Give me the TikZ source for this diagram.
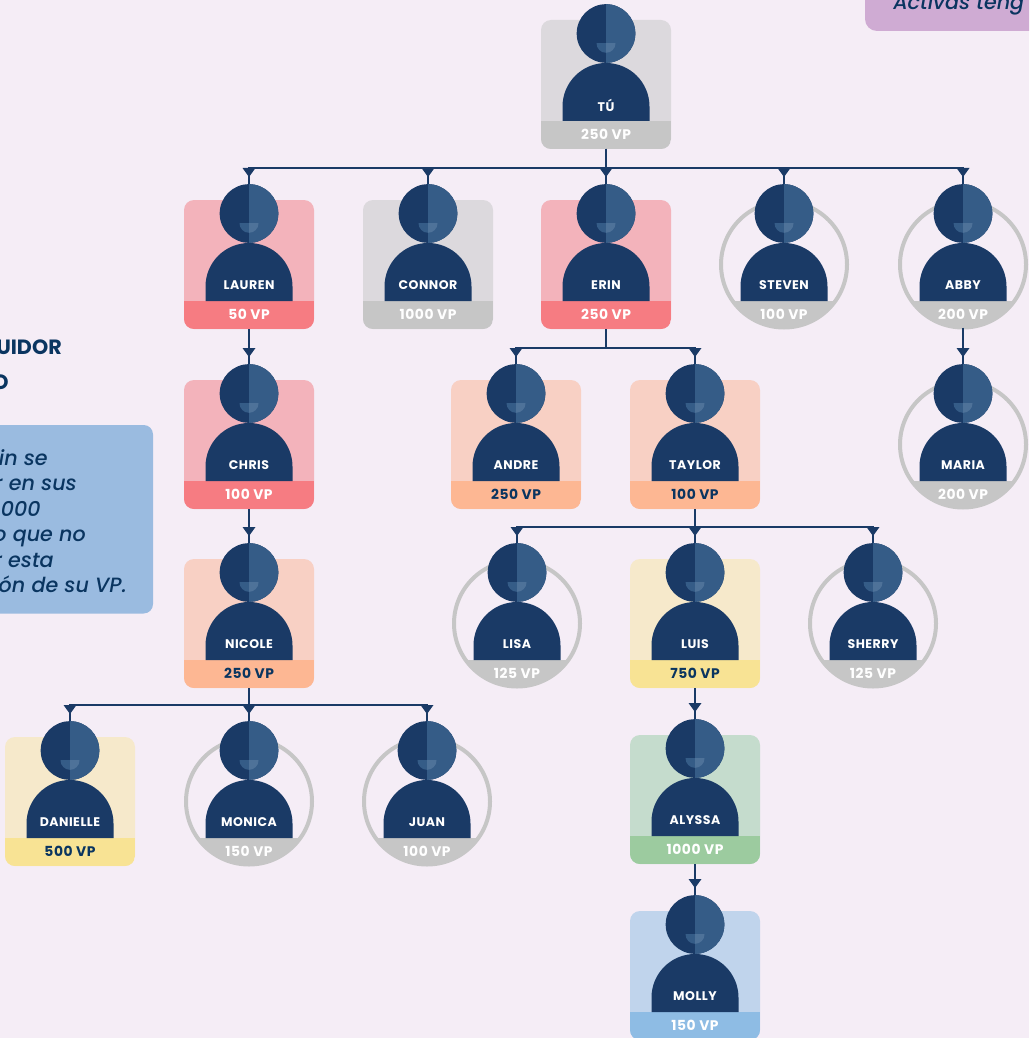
\documentclass[tikz,border=0pt]{standalone}
\usepackage{fontspec}
\setmainfont{Poppins}
\newfontfamily\namef[LetterSpace=4]{Poppins}
\newfontfamily\sidef[ItalicFont={Poppins Medium Italic}]{Poppins Medium}
\usetikzlibrary{calc}
\definecolor{bgc}{HTML}{F5EDF6}
\definecolor{navy}{HTML}{1A3A66}
\definecolor{headr}{HTML}{355C87}
\definecolor{mouthl}{HTML}{355C87}
\definecolor{mouthr}{HTML}{4E7299}
\definecolor{txtc}{HTML}{0A3560}
\definecolor{gra}{HTML}{DCD9DD}\definecolor{grb}{HTML}{C6C6C6}
\definecolor{rea}{HTML}{F3B3BB}\definecolor{reb}{HTML}{F67C82}
\definecolor{ora}{HTML}{F8D0C4}\definecolor{orb}{HTML}{FDB793}
\definecolor{yea}{HTML}{F6E9CB}\definecolor{yeb}{HTML}{F8E394}
\definecolor{gna}{HTML}{C5DCCD}\definecolor{gnb}{HTML}{9CCB9F}
\definecolor{bla}{HTML}{C0D4EC}\definecolor{blb}{HTML}{8EBCE4}
\definecolor{boxb}{HTML}{9ABBE0}\definecolor{boxp}{HTML}{CFABD3}
\tikzset{
  cardnode/.style={inner sep=0pt,outer sep=0pt,minimum width=97.5pt,minimum height=96.75pt,rounded corners=7.5pt},
  ringnode/.style={circle,inner sep=0pt,outer sep=0pt,minimum size=94.5pt,draw=grb,line width=3pt},
  headnode/.style={circle,inner sep=0pt,outer sep=0pt,minimum size=44pt,fill=navy},
  nametext/.style={text=white,inner sep=0pt,font=\namef\bfseries\fontsize{9.4}{11}\selectfont},
  vptext/.style={inner sep=0pt,font=\namef\bfseries\fontsize{10.4}{12}\selectfont},
  conn/.style={draw=navy,line width=1.1pt},
  tipmark/.style={fill=navy},
  sidehead/.style={text=txtc,inner sep=0pt,font=\bfseries\fontsize{15.5}{18}\selectfont},
  sidetext/.style={text=txtc,inner sep=0pt,font=\sidef\itshape\fontsize{15.5}{18}\selectfont},
}
% id, name, vp, vp colour
\newcommand{\pfigure}[4]{%
  \node[headnode] (#1h) at (0,13.5) {};
  \begin{scope}
    \clip (0,-17) rectangle (30,44);
    \fill[headr] (0,13.5) circle[radius=29.33];
  \end{scope}
  \begin{scope}
    \clip (-10,23.3) rectangle (0,34);
    \fill[mouthl] (0,23.3) circle[radius=9.5];
  \end{scope}
  \begin{scope}
    \clip (0,23.3) rectangle (10,34);
    \fill[mouthr] (0,23.3) circle[radius=9.5];
  \end{scope}
  \fill[navy] (-43.5,101) -- (-43.5,86.5) arc[start angle=180,end angle=360,radius=43.5] -- (43.5,101) -- cycle;
  \node[nametext] (#1n) at (0,85) {#2};
  \node[vptext,text=#4] (#1v) at (0,114.5) {#3};
}
% id, cx, top, name, vp, card, band, vp colour
\newcommand{\cardp}[8]{%
  \begin{scope}[shift={(#2,#3)}]
    \node[cardnode,fill=#6] (#1) at (0,64.5) {};
    \begin{scope}
      \clip[rounded corners=7.5pt] (-65,0) rectangle (65,129);
      \fill[#7] (-65,101) rectangle (65,129);
    \end{scope}
    \pfigure{#1}{#4}{#5}{#8}
  \end{scope}}
% id, cx, top, name, vp
\newcommand{\ringp}[5]{%
  \begin{scope}[shift={(#2,#3)}]
    \begin{scope}
      \clip (0,64.5) circle[radius=64];
      \fill[grb] (-65,101) rectangle (65,130);
    \end{scope}
    \node[ringnode] (#1) at (0,64.5) {};
    \pfigure{#1}{#4}{#5}{white}
  \end{scope}}
% parent, child, bus y
\newcommand{\linkp}[3]{%
  \draw[conn] (#1.south) -- (#1.south |- 0,#3) -- (#2h.north |- 0,#3) -- (#2h.north);
  \fill[tipmark] ($(#2h.north |- 0,#3)+(-6.5,0)$) -- ($(#2h.north |- 0,#3)+(6.5,0)$) -- ($(#2h.north |- 0,#3)+(0,9)$) -- cycle;
}
\begin{document}
\begin{tikzpicture}[x=0.75pt,y=-0.75pt]
\useasboundingbox (0,0) rectangle (1029,1038);
\clip (0,0) rectangle (1029,1038);
\fill[bgc] (0,0) rectangle (1029,1038);
% side boxes
\fill[boxp,rounded corners=9pt] (865,-30) rectangle (1060,31);
\node[sidetext,anchor=base west] (act) at (893,10) {Activas teng};
\fill[boxb,rounded corners=7pt] (-40,425) rectangle (153,613.5);
\node[sidehead,anchor=base east] (h1) at (62,354.5) {UIDOR};
\node[sidehead,anchor=base east] (h2) at (9,389.5) {O};
\node[sidetext,anchor=base east] (t1) at (48,465) {in se};
\node[sidetext,anchor=base east] (t2) at (77,490) {r en sus};
\node[sidetext,anchor=base east] (t3) at (41,516) {000};
\node[sidetext,anchor=base east] (t4) at (86,541) {o que no};
\node[sidetext,anchor=base east] (t5) at (54,567) {r esta};
\node[sidetext,anchor=base east] (t6) at (127,592.5) {ón de su VP.};
% persons
\cardp{tu}{606}{20}{TÚ}{250 VP}{gra}{grb}{white}
\cardp{lauren}{249}{200}{LAUREN}{50 VP}{rea}{reb}{white}
\cardp{connor}{428}{200}{CONNOR}{1000 VP}{gra}{grb}{white}
\cardp{erin}{606}{200}{ERIN}{250 VP}{rea}{reb}{white}
\ringp{steven}{784}{200}{STEVEN}{100 VP}
\ringp{abby}{963}{200}{ABBY}{200 VP}
\cardp{chris}{249}{380}{CHRIS}{100 VP}{rea}{reb}{white}
\cardp{andre}{516}{380}{ANDRE}{250 VP}{ora}{orb}{txtc}
\cardp{taylor}{695}{380}{TAYLOR}{100 VP}{ora}{orb}{txtc}
\ringp{maria}{963}{380}{MARIA}{200 VP}
\cardp{nicole}{249}{559}{NICOLE}{250 VP}{ora}{orb}{txtc}
\ringp{lisa}{517}{559}{LISA}{125 VP}
\cardp{luis}{695}{559}{LUIS}{750 VP}{yea}{yeb}{txtc}
\ringp{sherry}{873}{559}{SHERRY}{125 VP}
\cardp{danielle}{70}{737}{DANIELLE}{500 VP}{yea}{yeb}{txtc}
\ringp{monica}{249}{737}{MONICA}{150 VP}
\ringp{juan}{427}{737}{JUAN}{100 VP}
\cardp{alyssa}{695}{735}{ALYSSA}{1000 VP}{gna}{gnb}{white}
\cardp{molly}{695}{911}{MOLLY}{150 VP}{bla}{blb}{white}
% connectors
\linkp{tu}{lauren}{168}
\linkp{tu}{connor}{168}
\linkp{tu}{erin}{168}
\linkp{tu}{steven}{168}
\linkp{tu}{abby}{168}
\linkp{lauren}{chris}{348}
\linkp{chris}{nicole}{527}
\linkp{erin}{andre}{348}
\linkp{erin}{taylor}{348}
\linkp{abby}{maria}{348}
\linkp{taylor}{lisa}{527}
\linkp{taylor}{luis}{527}
\linkp{taylor}{sherry}{527}
\linkp{nicole}{danielle}{705}
\linkp{nicole}{monica}{705}
\linkp{nicole}{juan}{705}
\linkp{luis}{alyssa}{703}
\linkp{alyssa}{molly}{879}
\end{tikzpicture}
\end{document}
